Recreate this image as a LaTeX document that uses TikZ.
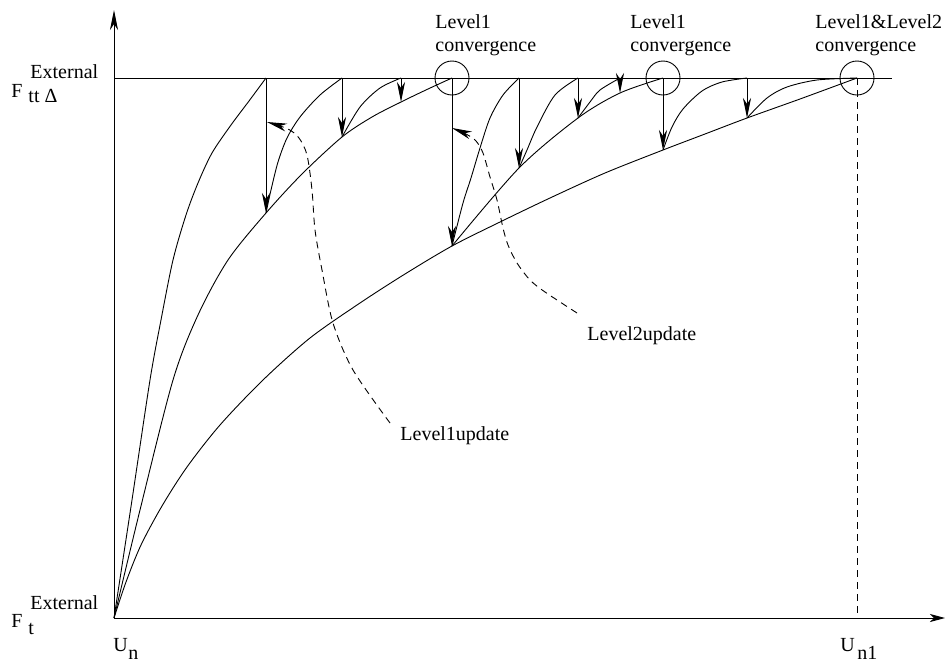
\documentclass[tikz,border=0pt]{standalone}
\usepackage{fontspec}
\setmainfont{Liberation Serif}
\usetikzlibrary{arrows.meta}
\begin{document}
\begin{tikzpicture}[x=1pt,y=-1pt,
  line width=0.9pt,
  lbl/.style={inner sep=0pt, font=\fontsize{20}{24}\selectfont},
  tipA/.style={-{Stealth[length=20pt,width=8pt,inset=6pt]}},
  xaxis/.style={-{Stealth[length=15pt,width=8pt,inset=4pt]}},
  droparrow/.style={-{Stealth[length=20pt,width=8pt,inset=6pt]}},
  hint/.style={dash pattern=on 7pt off 5pt, -{Stealth[length=20pt,width=8pt,inset=6pt]}},
  guide/.style={dash pattern=on 7pt off 5pt},
  ring/.style={draw, circle, minimum size=34pt, inner sep=0pt},
]
\useasboundingbox (0,0) rectangle (946,662);

% axes and the external load level
\coordinate (O) at (114,618);
\coordinate (ytop) at (114,10);
\coordinate (xend) at (945,618);
\coordinate (topL) at (114,78);
\coordinate (topR) at (892,78);
\draw[tipA] (O) -- (ytop);
\draw[xaxis] (O) -- (xend);
\draw (topL) -- (topR);

% points on the load level and landing points
\coordinate (t1) at (266,78);  \coordinate (l1) at (266,213);
\coordinate (t2) at (342,78);  \coordinate (l2) at (342,137);
\coordinate (t3) at (401,78);  \coordinate (l3) at (401,102);
\coordinate (c1) at (452,78);  \coordinate (l4) at (452,246);
\coordinate (t5) at (519,78);  \coordinate (l5) at (519,168);
\coordinate (t6) at (578,78);  \coordinate (l6) at (578,118);
\coordinate (t7) at (620,78);  \coordinate (l7) at (620,93);
\coordinate (c2) at (663,78);  \coordinate (l8) at (663,150);
\coordinate (t9) at (747,78);  \coordinate (l9) at (747,118);
\coordinate (c3) at (857,78);
\coordinate (u1) at (857,618);

% equilibrium paths from the origin
\draw plot[smooth] coordinates {(O) (132,500) (150,380) (161,320) (173,260) (186,215)
  (198,183) (212,153) (231,125) (249,101) (t1)};
\draw plot[smooth] coordinates {(O) (140,510) (173,380) (198,315) (228,260) (l1)
  (302,174) (l2) (372,117) (l3) (428,89) (c1)};
\draw plot[smooth] coordinates {(O) (126,582) (141,545) (162,506) (187,467) (220,425)
  (263,380) (310,338) (360,303) (405,274) (l4) (500,222) (550,198) (605,173) (l8)
  (705,134) (l9) (800,99) (c3)};
\draw plot[smooth] coordinates {(l4) (l5) (l6) (l7) (c2)};

% iteration curves rising to the load level
\draw plot[smooth] coordinates {(l1) (271,190) (278,162) (287,138) (300,117) (320,95) (t2)};
\draw plot[smooth] coordinates {(l2) (360,107) (380,88) (t3)};
\draw plot[smooth] coordinates {(l4) (463,203) (471,178) (480,148) (490,118) (503,95) (t5)};
\draw plot[smooth] coordinates {(l5) (527,150) (537,127) (555,95) (t6)};
\draw plot[smooth] coordinates {(l6) (590,102) (600,90) (t7)};
\draw plot[smooth] coordinates {(l8) (672,127) (683,109) (702,91) (722,82) (t9)};
\draw plot[smooth] coordinates {(l9) (767,98) (787,87) (817,80) (c3)};

% load-level drops
\foreach \a/\b in {t1/l1, t2/l2, t3/l3, c1/l4, t5/l5, t6/l6, t7/l7, c2/l8, t9/l9}
  \draw[droparrow] (\a) -- (\b);

% convergence marks
\node[ring] (ring1) at (c1) {};
\node[ring] (ring2) at (c2) {};
\node[ring] (ring3) at (c3) {};
\draw[guide] (c3) -- (u1);

% axis labels
\node[lbl, anchor=base west] (Ftop) at (11,97) {F};
\node[lbl, anchor=base west] (Etop) at (30,78) {External};
\node[lbl, anchor=base west] (tdt) at (28,102) {tt Δ};
\node[lbl, anchor=base west] (Fbot) at (11,627) {F};
\node[lbl, anchor=base west] (Ebot) at (30,609) {External};
\node[lbl, anchor=base west] (tsub) at (28,634) {t};
\node[lbl, anchor=base west] (U0) at (113,651) {U};
\node[lbl, anchor=base west] (n0) at (128,659) {n};
\node[lbl, anchor=base west] (U1) at (840,651) {U};
\node[lbl, anchor=base west] (n1) at (857,659) {n1};

% convergence captions
\node[lbl, anchor=base west] (cap1a) at (435,28) {Level1};
\node[lbl, anchor=base west] (cap1b) at (435,51) {convergence};
\node[lbl, anchor=base west] (cap2a) at (630,28) {Level1};
\node[lbl, anchor=base west] (cap2b) at (630,51) {convergence};
\node[lbl, anchor=base west] (cap3a) at (815,28) {Level1\&Level2};
\node[lbl, anchor=base west] (cap3b) at (815,51) {convergence};

% update annotations
\node[lbl, anchor=base west] (upd1) at (400,440) {Level1update};
\node[lbl, anchor=base west] (upd2) at (587,340) {Level2update};
\coordinate (s1) at (390,423);
\coordinate (e1) at (267,122);
\coordinate (s2) at (577,313);
\coordinate (e2) at (452,128);
\draw[hint] plot[smooth] coordinates {(s1) (353,370) (333,323) (322,270) (315,230) (312,190) (307,155) (299,138) (288,129) (e1)};
\draw[hint] plot[smooth] coordinates {(s2) (545,292) (530,280) (517,263) (508,245) (503,228) (497,200) (490,177) (483,153) (476,141) (466,134) (e2)};
\end{tikzpicture}
\end{document}
